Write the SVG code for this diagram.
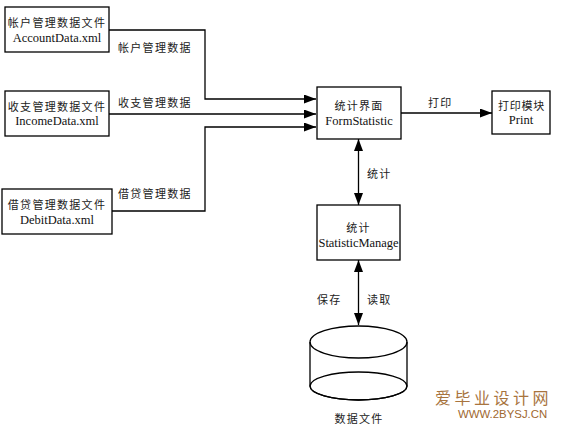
<svg xmlns="http://www.w3.org/2000/svg" width="562" height="433" viewBox="0 0 562 433">
<style>
.box{fill:#fff;stroke:#000;stroke-width:1.3}
.cn{font-family:"Noto Sans CJK SC","Noto Sans",sans-serif;font-size:11px;letter-spacing:1.3px;fill:#222}
.en{font-family:"Liberation Serif",serif;font-size:12.5px;fill:#111}
.mid{text-anchor:middle}
.ln{fill:none;stroke:#000;stroke-width:1.3}
</style>
<defs>
<marker id="ah" viewBox="0 0 12 9" refX="12" refY="4.5" markerWidth="12" markerHeight="9" markerUnits="userSpaceOnUse" orient="auto-start-reverse">
<path d="M0,0 L12,4.5 L0,9 z" fill="#000"/>
</marker>
</defs>
<rect width="562" height="433" fill="#fff"/>
<g id="connectors">
<polyline class="ln" points="109,30 205,30 205,99 316,99" marker-end="url(#ah)"/>
<line class="ln" x1="109" y1="114" x2="316" y2="114" marker-end="url(#ah)"/>
<polyline class="ln" points="112,211 205,211 205,127 316,127" marker-end="url(#ah)"/>
<line class="ln" x1="401" y1="113" x2="492" y2="113" marker-end="url(#ah)"/>
<line class="ln" x1="358.5" y1="139" x2="358.5" y2="205" marker-start="url(#ah)" marker-end="url(#ah)"/>
<line class="ln" x1="358.5" y1="260" x2="358.5" y2="325" marker-start="url(#ah)" marker-end="url(#ah)"/>
<text class="cn" x="118" y="52">帐户管理数据</text>
<text class="cn" x="118" y="107">收支管理数据</text>
<text class="cn" x="118" y="198">借贷管理数据</text>
<text class="cn" x="428" y="107">打印</text>
<text class="cn" x="367" y="178">统计</text>
<text class="cn" x="317" y="304">保存</text>
<text class="cn" x="367" y="304">读取</text>
</g>
<g id="account">
<rect class="box" x="5" y="7" width="104" height="45"/>
<text class="cn mid" x="57" y="27">帐户管理数据文件</text>
<text class="en mid" x="57" y="42">AccountData.xml</text>
</g>
<g id="income">
<rect class="box" x="5" y="91" width="104" height="45"/>
<text class="cn mid" x="57" y="111">收支管理数据文件</text>
<text class="en mid" x="57" y="125">IncomeData.xml</text>
</g>
<g id="debit">
<rect class="box" x="2" y="189" width="110" height="45"/>
<text class="cn mid" x="57" y="209">借贷管理数据文件</text>
<text class="en mid" x="57" y="224">DebitData.xml</text>
</g>
<g id="formstatistic">
<rect class="box" x="317" y="87" width="84" height="52"/>
<text class="cn mid" x="359" y="110">统计界面</text>
<text class="en mid" x="359" y="125">FormStatistic</text>
</g>
<g id="print">
<rect class="box" x="492" y="91" width="58" height="43"/>
<text class="cn mid" x="521.5" y="110" style="letter-spacing:0.8px">打印模块</text>
<text class="en mid" x="521" y="124">Print</text>
</g>
<g id="statisticmanage">
<rect class="box" x="317" y="205" width="83" height="55"/>
<text class="cn mid" x="358.5" y="232">统计</text>
<text class="en mid" x="358.5" y="247" textLength="80">StatisticManage</text>
</g>
<g id="datafile">
<path class="ln" d="M310,342 L310,386 A48.5,14 0 0 0 407,386 L407,342" fill="#fff"/>
<ellipse class="ln" cx="358.5" cy="386" rx="48.5" ry="14"/>
<ellipse class="ln" cx="358.5" cy="342" rx="48.5" ry="16" fill="#fff"/>
<text class="cn mid" x="359" y="423">数据文件</text>
</g>
<g id="watermark">
<text x="435" y="404" style="font-family:'Noto Sans CJK SC',sans-serif;font-size:16px;letter-spacing:3.5px;fill:#A8743E">爱毕业设计网</text>
<text x="458" y="418" style="font-family:'Liberation Sans',sans-serif;font-size:11.4px;fill:#A0682F">WWW.2BYSJ.CN</text>
</g>
</svg>
